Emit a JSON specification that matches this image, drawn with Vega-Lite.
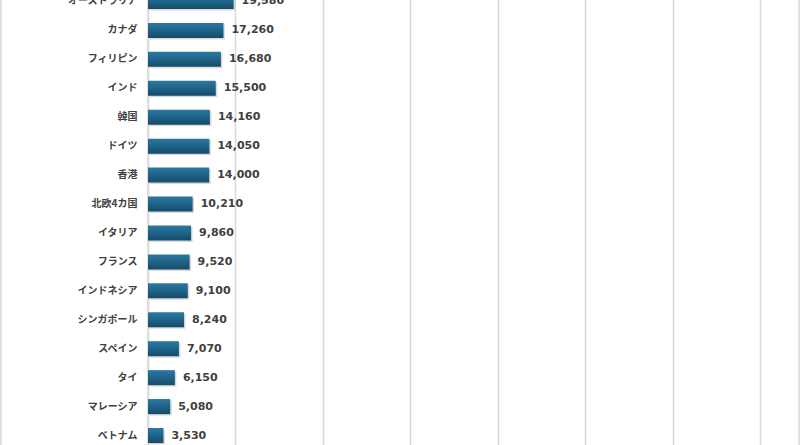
{
  "$schema": "https://vega.github.io/schema/vega-lite/v6.json",
  "width": 651,
  "height": 463,
  "autosize": {"type": "none"},
  "padding": {"left": 148, "top": -13, "right": 1, "bottom": -5},
  "background": "white",
  "config": {
    "view": {"stroke": "#d9d9d9", "strokeWidth": 1.5}
  },
  "data": {
    "values": [
      {"country": "オーストラリア", "value": 19580},
      {"country": "カナダ", "value": 17260},
      {"country": "フィリピン", "value": 16680},
      {"country": "インド", "value": 15500},
      {"country": "韓国", "value": 14160},
      {"country": "ドイツ", "value": 14050},
      {"country": "香港", "value": 14000},
      {"country": "北欧4カ国", "value": 10210},
      {"country": "イタリア", "value": 9860},
      {"country": "フランス", "value": 9520},
      {"country": "インドネシア", "value": 9100},
      {"country": "シンガポール", "value": 8240},
      {"country": "スペイン", "value": 7070},
      {"country": "タイ", "value": 6150},
      {"country": "マレーシア", "value": 5080},
      {"country": "ベトナム", "value": 3530}
    ]
  },
  "encoding": {
    "y": {
      "field": "country",
      "type": "nominal",
      "sort": null,
      "scale": {"paddingInner": 0.48, "paddingOuter": 0.24},
      "axis": {
        "title": null,
        "ticks": false,
        "tickSize": 0,
        "offset": 147.5,
        "domain": true,
        "domainColor": "#d4d4d4",
        "domainWidth": 1.5,
        "labelPadding": -136.5,
        "labelFont": "Noto Sans CJK JP",
        "labelFontWeight": "bold",
        "labelFontSize": 10,
        "labelColor": "#404040"
      }
    },
    "x": {
      "field": "value",
      "type": "quantitative",
      "scale": {"domain": [0, 148900], "nice": false},
      "axis": {
        "title": null,
        "labels": false,
        "ticks": false,
        "domain": false,
        "values": [0, 20000, 40000, 60000, 80000, 100000, 120000, 140000],
        "gridColor": "#d9d9d9",
        "gridWidth": 1.5
      }
    }
  },
  "layer": [
    {
      "mark": {
        "type": "bar",
        "color": "#000000",
        "opacity": 0.15,
        "xOffset": 1.5,
        "yOffset": 1.5
      }
    },
    {
      "mark": {
        "type": "bar",
        "color": {
          "gradient": "linear",
          "x1": 0, "y1": 0, "x2": 0, "y2": 1,
          "stops": [
            {"offset": 0, "color": "#2b78a0"},
            {"offset": 0.5, "color": "#1f6389"},
            {"offset": 1, "color": "#164b6a"}
          ]
        }
      }
    },
    {
      "mark": {
        "type": "text",
        "align": "left",
        "baseline": "middle",
        "dx": 8,
        "font": "DejaVu Sans",
        "fontWeight": "bold",
        "fontSize": 11,
        "color": "#404040"
      },
      "encoding": {
        "text": {"field": "value", "type": "quantitative", "format": ","}
      }
    }
  ]
}
